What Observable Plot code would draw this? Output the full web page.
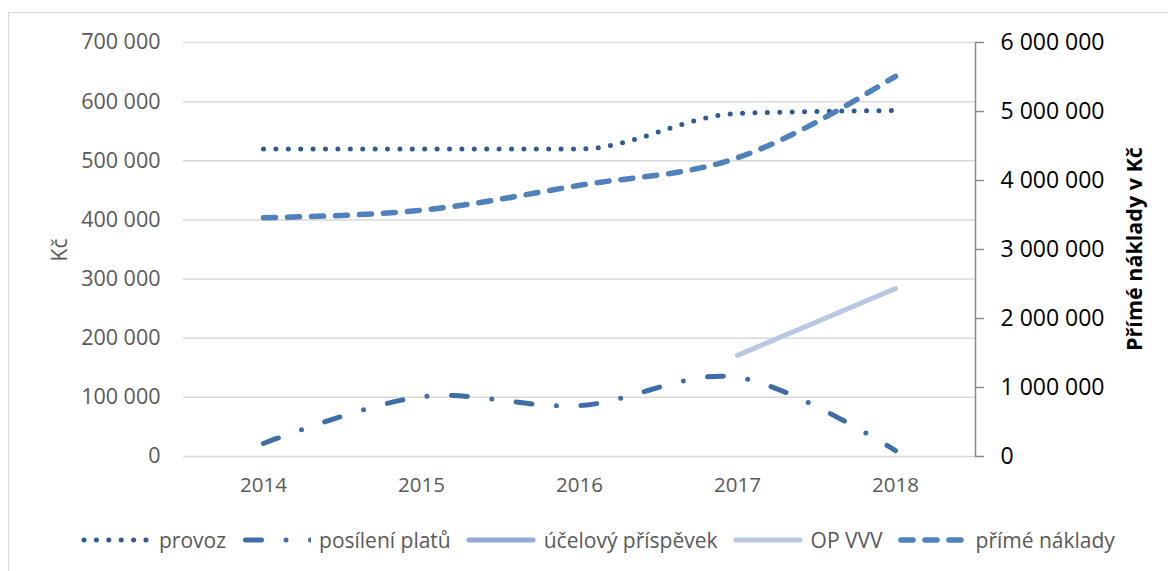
<!DOCTYPE html>
<html>
<head>
<meta charset="utf-8">
<script src="https://cdn.jsdelivr.net/npm/d3@7"></script>
<script src="https://cdn.jsdelivr.net/npm/@observablehq/plot@0.6"></script>
<style>
  body { margin: 0; background: #fff; font-family: "Open Sans", sans-serif; }
  #wrap { position: relative; width: 1168px; height: 571px; overflow: hidden; background: #fff; }
  #frame { position: absolute; left: 8px; top: 12px; width: 1300px; height: 700px;
           border-left: 1.5px solid #d9d9d9; border-top: 1.5px solid #d9d9d9; }
  #chart { position: absolute; left: 0; top: 0; }
  #legend { position: absolute; left: 81px; top: 526px; height: 28px; display: flex; align-items: center;
            font-size: 21px; color: #595959; white-space: nowrap; }
  #legend .item { display: flex; align-items: center; margin-right: 15px; }
  #legend svg { display: block; margin-right: 8px; }
</style>
</head>
<body>
<div id="wrap">
  <div id="frame"></div>
  <div id="chart"></div>
  <div id="legend"></div>
</div>
<script>
// ---- data ----
const years = ["2014", "2015", "2016", "2017", "2018"];
const provoz = [520000, 520000, 520000, 580000, 585000];
const posileniPlatu = [22000, 101000, 86000, 134000, 10000];
const ucelovyPrispevek = [null, null, null, null, null];
const opVVV = [null, null, null, 171000, 284000];
const primeNaklady = [3460000, 3570000, 3930000, 4330000, 5510000]; // right axis
const leftTicks = [0, 100000, 200000, 300000, 400000, 500000, 600000, 700000];
const rightTicks = [0, 1000000, 2000000, 3000000, 4000000, 5000000, 6000000];
const seriesNames = ["provoz", "posílení platů", "účelový příspěvek", "OP VVV", "přímé náklady"];
const leftTitle = "Kč";
const rightTitle = "Přímé náklady v Kč";

// ---- styles ----
const styles = {
  "provoz": { stroke: "#2f5b93", width: 5, dash: "0 12.4", curve: "monotone-x" },
  "posílení platů": { stroke: "#3e6ea8", width: 5, dash: "16 24.5 0 24.5", curve: "cardinal" },
  "účelový příspěvek": { stroke: "#95abd5", width: 5, dash: null, curve: "linear" },
  "OP VVV": { stroke: "#b9c7e2", width: 5, dash: null, curve: "linear" },
  "přímé náklady": { stroke: "#4f81bd", width: 5.5, dash: "12 12", curve: "monotone-x" }
};

const loc = d3.formatLocale({ decimal: ",", thousands: " ", grouping: [3], currency: ["", ""] });
const fmt = loc.format(",d");
const leftMax = 700000, rightMax = 6000000;
const k = leftMax / rightMax;

function rows(vals, scale = 1) {
  return years.map((y, i) => ({ year: y, value: vals[i] == null ? null : vals[i] * scale }))
              .filter(d => d.value != null);
}

const seriesData = {
  "provoz": rows(provoz),
  "posílení platů": rows(posileniPlatu),
  "účelový příspěvek": rows(ucelovyPrispevek),
  "OP VVV": rows(opVVV),
  "přímé náklady": rows(primeNaklady, k)
};

const lineMarks = ["OP VVV", "účelový příspěvek", "posílení platů", "provoz", "přímé náklady"].map(name => {
  const s = styles[name];
  return Plot.line(seriesData[name], {
    x: "year", y: "value", stroke: s.stroke, strokeWidth: s.width,
    strokeDasharray: s.dash || undefined, strokeLinecap: "round", strokeLinejoin: "round",
    curve: s.curve
  });
});

const chart = Plot.plot({
  width: 1168,
  height: 510,
  marginLeft: 183,
  marginRight: 193,
  marginTop: 42,
  marginBottom: 54,
  style: { fontFamily: "Open Sans, sans-serif", background: "transparent", overflow: "visible" },
  x: { type: "point", domain: years, padding: 0.5 },
  y: { domain: [0, leftMax] },
  marks: [
    Plot.gridY(leftTicks, { stroke: "#d9d9d9", strokeOpacity: 1, strokeWidth: 1.5 }),
    Plot.frame({ anchor: "right", stroke: "#8c8c8c", strokeWidth: 1.5 }),
    Plot.axisY(leftTicks, { anchor: "left", tickSize: 0, tickPadding: 23, tickFormat: fmt,
      fontSize: 21.5, fill: "#595959", label: null }),
    Plot.axisY(rightTicks.map(v => v * k), { anchor: "right", tickSize: 8, tickPadding: 17,
      tickFormat: d => fmt(Math.round(d / k)), fontSize: 23, fill: "#000", stroke: "#8c8c8c",
      strokeWidth: 1.5, label: null }),
    Plot.axisX({ tickSize: 0, tickPadding: 21, fontSize: 20.5, fill: "#595959", label: null }),
    ...lineMarks
  ]
});
document.getElementById("chart").appendChild(chart);

// axis titles
const svg = d3.select(chart);
svg.append("text").text(leftTitle)
  .attr("transform", "translate(59,250) rotate(-90)")
  .attr("text-anchor", "middle").attr("dominant-baseline", "central")
  .attr("fill", "#595959").style("font-size", "21px").style("font-family", "Open Sans, sans-serif");
svg.append("text").text(rightTitle)
  .attr("transform", "translate(1133,249) rotate(-90)")
  .attr("text-anchor", "middle").attr("dominant-baseline", "central")
  .attr("fill", "#000").style("font-size", "21.5px").style("font-weight", "bold")
  .style("font-family", "Open Sans, sans-serif");

// legend
const legend = d3.select("#legend");
seriesNames.forEach(name => {
  const s = styles[name];
  const item = legend.append("div").attr("class", "item");
  const sw = item.append("svg").attr("width", 70).attr("height", 12);
  const x1 = name === "posílení platů" ? 4.5 : 3;
  sw.append("line").attr("x1", x1).attr("x2", name === "posílení platů" ? 70 : 67)
    .attr("y1", 6).attr("y2", 6)
    .attr("stroke", s.stroke).attr("stroke-width", s.width)
    .attr("stroke-linecap", "round")
    .attr("stroke-dasharray", s.dash);
  item.append("span").text(name);
});
</script>
</body>
</html>
